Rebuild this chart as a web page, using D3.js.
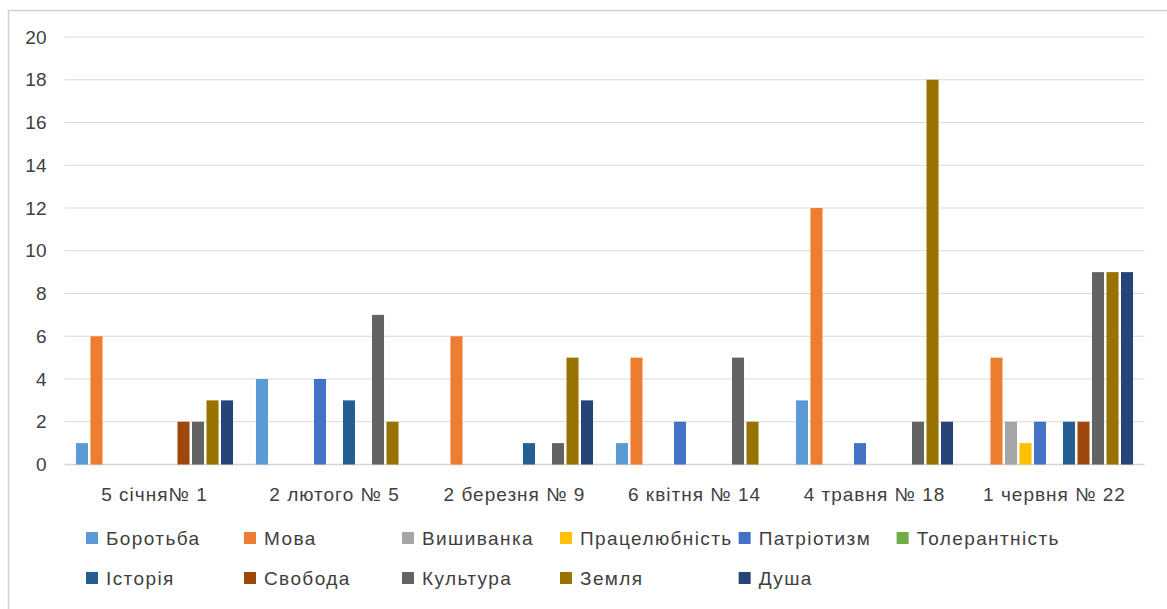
<!DOCTYPE html>
<html>
<head>
<meta charset="utf-8">
<script src="https://cdn.jsdelivr.net/npm/d3@7"></script>
<style>
  html, body { margin: 0; padding: 0; background: #fff; }
  svg text { font-family: "Liberation Sans", Arial, sans-serif; fill: #404040; }
</style>
</head>
<body>
<div id="chart"></div>
<script>
// дані діаграми
const categories = ['5 січня№ 1', '2 лютого № 5', '2 березня № 9', '6 квітня № 14', '4 травня № 18', '1 червня № 22'];
const seriesNames = ['Боротьба', 'Мова', 'Вишиванка', 'Працелюбність', 'Патріотизм', 'Толерантність',
                     'Історія', 'Свобода', 'Культура', 'Земля', 'Душа'];
const seriesColors = ['#5B9BD5', '#ED7D31', '#A5A5A5', '#FFC000', '#4472C4', '#70AD47',
                      '#255E91', '#9E480E', '#636363', '#997300', '#264478'];
// значення: рядок = серія, стовпець = категорія
const borotba        = [1, 4, 0, 1, 3, 0];
const mova           = [6, 0, 6, 5, 12, 5];
const vyshyvanka     = [0, 0, 0, 0, 0, 2];
const pratselyubnist = [0, 0, 0, 0, 0, 1];
const patriotyzm     = [0, 4, 0, 2, 1, 2];
const tolerantnist   = [0, 0, 0, 0, 0, 0];
const istoriya       = [0, 3, 1, 0, 0, 2];
const svoboda        = [2, 0, 0, 0, 0, 2];
const kultura        = [2, 7, 1, 5, 2, 9];
const zemlya         = [3, 2, 5, 2, 18, 9];
const dusha          = [3, 0, 3, 0, 2, 9];
const yTicks = [0, 2, 4, 6, 8, 10, 12, 14, 16, 18, 20];

const seriesValues = [borotba, mova, vyshyvanka, pratselyubnist, patriotyzm, tolerantnist,
                      istoriya, svoboda, kultura, zemlya, dusha];

const width = 1167, height = 609;
const plot = { left: 64.5, right: 1144.5, top: 37, bottom: 464.5 };

const svg = d3.select('#chart').append('svg')
    .attr('width', width)
    .attr('height', height);

// рамка діаграми
svg.append('rect')
    .attr('x', 8.5).attr('y', 10.5)
    .attr('width', width + 10).attr('height', height + 10)
    .attr('fill', 'none')
    .attr('stroke', '#d0d0d0')
    .attr('stroke-width', 1.5);

const x0 = d3.scaleBand()
    .domain(categories)
    .range([plot.left, plot.right]);

const x1 = d3.scaleBand()
    .domain(seriesNames)
    .range([0, x0.bandwidth()])
    .paddingInner(0.17)
    .paddingOuter(0.79);

const y = d3.scaleLinear()
    .domain([0, 20])
    .range([plot.bottom, plot.top]);

// сітка
svg.append('g')
    .selectAll('line')
    .data(yTicks)
    .join('line')
    .attr('x1', plot.left).attr('x2', plot.right)
    .attr('y1', d => y(d)).attr('y2', d => y(d))
    .attr('stroke', d => d === 0 ? '#d4d4d4' : '#d9d9d9')
    .attr('stroke-width', d => d === 0 ? 1.5 : 1);

// вісь Y
const yAxis = svg.append('g')
    .attr('transform', `translate(${plot.left - 18},0)`)
    .call(d3.axisLeft(y).tickValues(yTicks).tickSize(0).tickPadding(0));
yAxis.select('.domain').remove();
yAxis.selectAll('text')
    .style('font-size', '19px')
    .style('fill', '#404040');

// вісь X
const xAxis = svg.append('g')
    .attr('transform', `translate(0,${plot.bottom})`)
    .call(d3.axisBottom(x0).tickSize(0).tickPadding(23));
xAxis.select('.domain').remove();
xAxis.selectAll('text')
    .style('font-size', '19px')
    .style('letter-spacing', '1px')
    .style('fill', '#404040');

// стовпці
const groups = svg.append('g')
    .selectAll('g')
    .data(categories)
    .join('g')
    .attr('transform', d => `translate(${x0(d)},0)`);

groups.selectAll('rect')
    .data((c, ci) => seriesNames.map((s, si) => ({ s, si, v: seriesValues[si][ci] })).filter(d => d.v > 0))
    .join('rect')
    .attr('x', d => x1(d.s))
    .attr('width', x1.bandwidth())
    .attr('y', d => y(d.v))
    .attr('height', d => y(0) - y(d.v))
    .attr('fill', d => seriesColors[d.si]);

// легенда
const legend = svg.append('g');
const perRow = 6;
const colWidth = 158;
const legendX = 86, legendY = 532, rowGap = 40;

const items = legend.selectAll('g')
    .data(seriesNames)
    .join('g');

items.append('rect')
    .attr('width', 12).attr('height', 12)
    .attr('fill', (d, i) => seriesColors[i]);

items.append('text')
    .attr('x', 20)
    .attr('y', 6)
    .attr('dy', '0.36em')
    .style('font-size', '19px')
    .style('letter-spacing', '1.4px')
    .style('fill', '#404040')
    .text(d => d);

// розміщення колонок: ширина не менша за текст
const colX = [legendX];
items.each(function (d, i) {
    const col = i % perRow;
    if (col === perRow - 1) return;
    const w = 20 + this.querySelector('text').getComputedTextLength() + 6;
    const next = colX[col] + Math.max(colWidth, w);
    colX[col + 1] = Math.max(colX[col + 1] || 0, next);
});
items.attr('transform', (d, i) =>
    `translate(${colX[i % perRow]},${legendY + Math.floor(i / perRow) * rowGap})`);
</script>
</body>
</html>
